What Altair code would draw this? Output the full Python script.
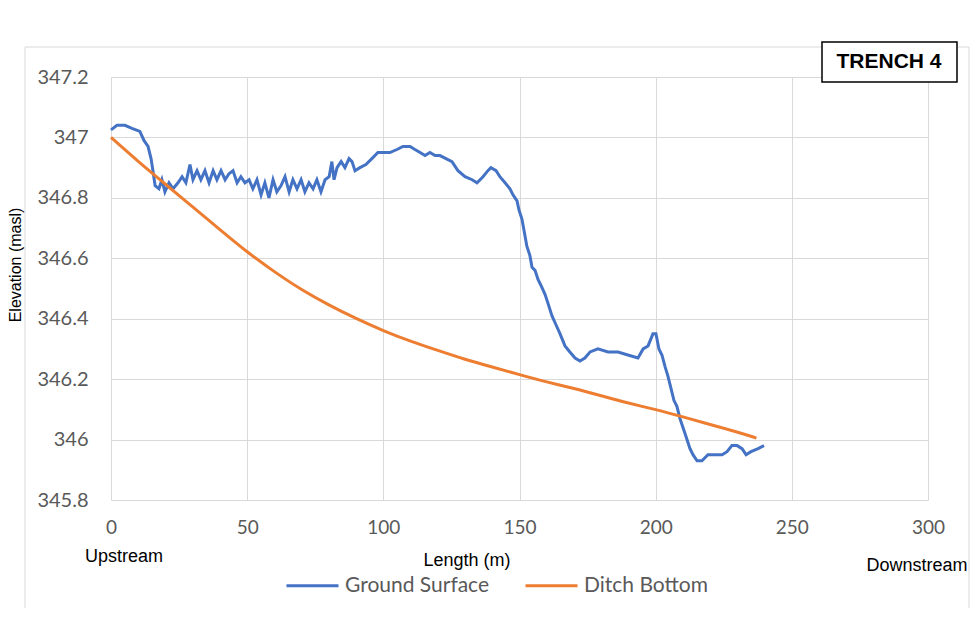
import altair as alt
import pandas as pd

ground_x = [0, 2.2, 5.1, 7.7, 10.6, 12.1, 13.6, 14.7, 15.4, 16.2, 17.6, 18.7, 19.8, 21.3, 22.8, 24.6,
            26.1, 27.5, 29, 30.1, 31.6, 33, 34.5, 36, 37.5, 38.9, 40.4, 41.9, 43.3, 44.8, 46.3, 47.7,
            49.2, 50.7, 52.1, 53.6, 55.1, 56.5, 58, 59.5, 60.9, 62.4, 63.9, 65.4, 66.8, 68.3, 69.8,
            71.2, 72.7, 74.2, 75.6, 77.1, 78.6, 80.1, 81.1, 81.9, 83, 84.5, 85.9, 87.4, 88.5, 89.6,
            91.4, 93.6, 95.8, 98, 99.9, 102.4, 105, 107.2, 109.8, 111.6, 113.5, 115.3, 117.1, 119,
            120.8, 123, 125.2, 127.4, 130, 132.6, 134.4, 136.6, 138.4, 139.5, 141.4, 142.8, 144.7,
            146.5, 147.6, 149.1, 149.8, 150.9, 151.7, 152.7, 153.8, 154.6, 155.7, 156.8, 157.9,
            159.4, 160.5, 161.9, 163.4, 164.9, 166.7, 168.5, 170.4, 172.2, 174, 175.9, 178.8,
            182.5, 186.2, 189.8, 193.5, 195.4, 197.2, 199, 200.1, 201.2, 202.3, 203.5, 204.5,
            205.6, 206.7, 207.8, 208.9, 210.4, 211.5, 212.6, 213.7, 215.2, 217, 219.2, 221.8,
            224.4, 226.2, 228, 229.9, 231.7, 233.2, 235, 237.6, 239.8]
ground_y = [347.025, 347.04, 347.04, 347.03, 347.02, 346.99, 346.97, 346.93, 346.89, 346.84, 346.83,
            346.86, 346.82, 346.85, 346.83, 346.85, 346.87, 346.85, 346.91, 346.86, 346.89, 346.86,
            346.89, 346.85, 346.89, 346.86, 346.89, 346.86, 346.88, 346.89, 346.85, 346.87, 346.85,
            346.86, 346.83, 346.86, 346.81, 346.85, 346.80, 346.86, 346.82, 346.84, 346.87, 346.82,
            346.86, 346.83, 346.86, 346.82, 346.85, 346.83, 346.86, 346.82, 346.86, 346.87, 346.92,
            346.86, 346.90, 346.92, 346.90, 346.93, 346.92, 346.89, 346.90, 346.91, 346.93, 346.95,
            346.95, 346.95, 346.96, 346.97, 346.97, 346.96, 346.95, 346.94, 346.95, 346.94, 346.94,
            346.93, 346.92, 346.89, 346.87, 346.86, 346.85, 346.87, 346.89, 346.90, 346.89, 346.87,
            346.85, 346.83, 346.81, 346.79, 346.76, 346.73, 346.69, 346.64, 346.61, 346.57, 346.56,
            346.53, 346.51, 346.48, 346.45, 346.41, 346.38, 346.35, 346.31, 346.29, 346.27, 346.26,
            346.27, 346.29, 346.30, 346.29, 346.29, 346.28, 346.27, 346.30, 346.31, 346.35, 346.35,
            346.30, 346.28, 346.24, 346.21, 346.17, 346.13, 346.11, 346.07, 346.03, 346.00, 345.97,
            345.95, 345.93, 345.93, 345.95, 345.95, 345.95, 345.96, 345.98, 345.98, 345.97, 345.95,
            345.96, 345.97, 345.98]

ditch_x = [0, 10, 20, 30, 40, 50, 60, 70, 80, 90, 100, 110, 120, 130, 140, 150, 160, 170, 180,
           190, 200, 210, 220, 230, 237]
ditch_y = [347.0, 346.92, 346.845, 346.77, 346.695, 346.62, 346.555, 346.495, 346.445, 346.40, 346.36,
           346.325, 346.295, 346.265, 346.24, 346.215, 346.19, 346.17, 346.145, 346.12, 346.10, 346.075,
           346.05, 346.025, 346.005]

series_names = ["Ground Surface", "Ditch Bottom"]
series_colors = ["#4472C4", "#ED7D31"]
x_ticks = [0, 50, 100, 150, 200, 250, 300]
y_ticks = [345.8, 346.0, 346.2, 346.4, 346.6, 346.8, 347.0, 347.2]

ground_df = pd.DataFrame({"Length": ground_x, "Elevation": ground_y, "Series": series_names[0]})
ditch_df = pd.DataFrame({"Length": ditch_x, "Elevation": ditch_y, "Series": series_names[1]})

LABEL_FONT = "Lato"
GRAY = "#595959"

x_enc = alt.X("Length:Q", scale=alt.Scale(domain=[0, 300], nice=False),
              axis=alt.Axis(values=x_ticks, title=None, grid=True, gridColor="#d9d9d9",
                            domain=False, ticks=False, labelPadding=18, labelFont=LABEL_FONT,
                            labelFontSize=19, labelColor=GRAY, labelFlush=False))
y_enc = alt.Y("Elevation:Q", scale=alt.Scale(domain=[345.8, 347.2], nice=False, zero=False),
              axis=alt.Axis(values=y_ticks, format="~f", title=None, grid=True, gridColor="#d9d9d9",
                            domain=False, ticks=False, labelPadding=23, labelFont=LABEL_FONT,
                            labelFontSize=20, labelColor=GRAY, labelFlush=False))
c_enc = alt.Color("Series:N", scale=alt.Scale(domain=series_names, range=series_colors),
                  legend=alt.Legend(orient="none", legendX=174, legendY=481, direction="horizontal",
                                    title=None, symbolType="stroke", symbolSize=2704,
                                    symbolStrokeWidth=3, labelFont=LABEL_FONT, labelFontSize=21,
                                    labelColor=GRAY, columnPadding=29, labelOffset=5))

ground = alt.Chart(ground_df).mark_line(strokeWidth=3).encode(
    x=x_enc, y=y_enc, color=c_enc, order="Length:Q")
ditch = alt.Chart(ditch_df).mark_line(strokeWidth=3, interpolate="basis").encode(
    x=x_enc, y=y_enc, color=c_enc, order="Length:Q")

frame = alt.Chart(pd.DataFrame({"a": [0]})).mark_rect(
    fill=None, stroke="#d9d9d9", strokeWidth=1
).encode(x=alt.value(-86), x2=alt.value(858), y=alt.value(-30), y2=alt.value(560))

title_box = alt.Chart(pd.DataFrame({"a": [0]})).mark_rect(
    fill="white", stroke="black", strokeWidth=1.5
).encode(x=alt.value(711), x2=alt.value(846), y=alt.value(-35), y2=alt.value(5))

ann = pd.DataFrame({
    "text": ["Upstream", "Length (m)", "Downstream"],
    "px": [13, 356, 806],
    "py": [480, 484, 489],
})
annot = alt.Chart(ann).mark_text(font="Liberation Sans", fontSize=18, color="black",
                                 baseline="middle", align="center").encode(
    x=alt.X("px:Q", scale=None), y=alt.Y("py:Q", scale=None), text="text:N")

ytitle = alt.Chart(pd.DataFrame({"text": ["Elevation (masl)"]})).mark_text(
    font="Liberation Sans", fontSize=16, color="black", angle=270, baseline="middle", align="center"
).encode(x=alt.value(-95), y=alt.value(188), text="text:N")

trench = alt.Chart(pd.DataFrame({"text": ["TRENCH 4"]})).mark_text(
    font="Liberation Sans", fontSize=21, fontWeight="bold", color="black",
    baseline="middle", align="center"
).encode(x=alt.value(778), y=alt.value(-15), text="text:N")

chart = alt.layer(frame, ground, ditch, title_box, trench, annot, ytitle).properties(
    width=817, height=423,
    padding={"left": 103, "top": 69, "right": 44, "bottom": 108},
    autosize=alt.AutoSizeParams(type="none"),
).configure_view(stroke=None)

chart.save("out.html", embed_options={"renderer": "svg", "actions": False})
